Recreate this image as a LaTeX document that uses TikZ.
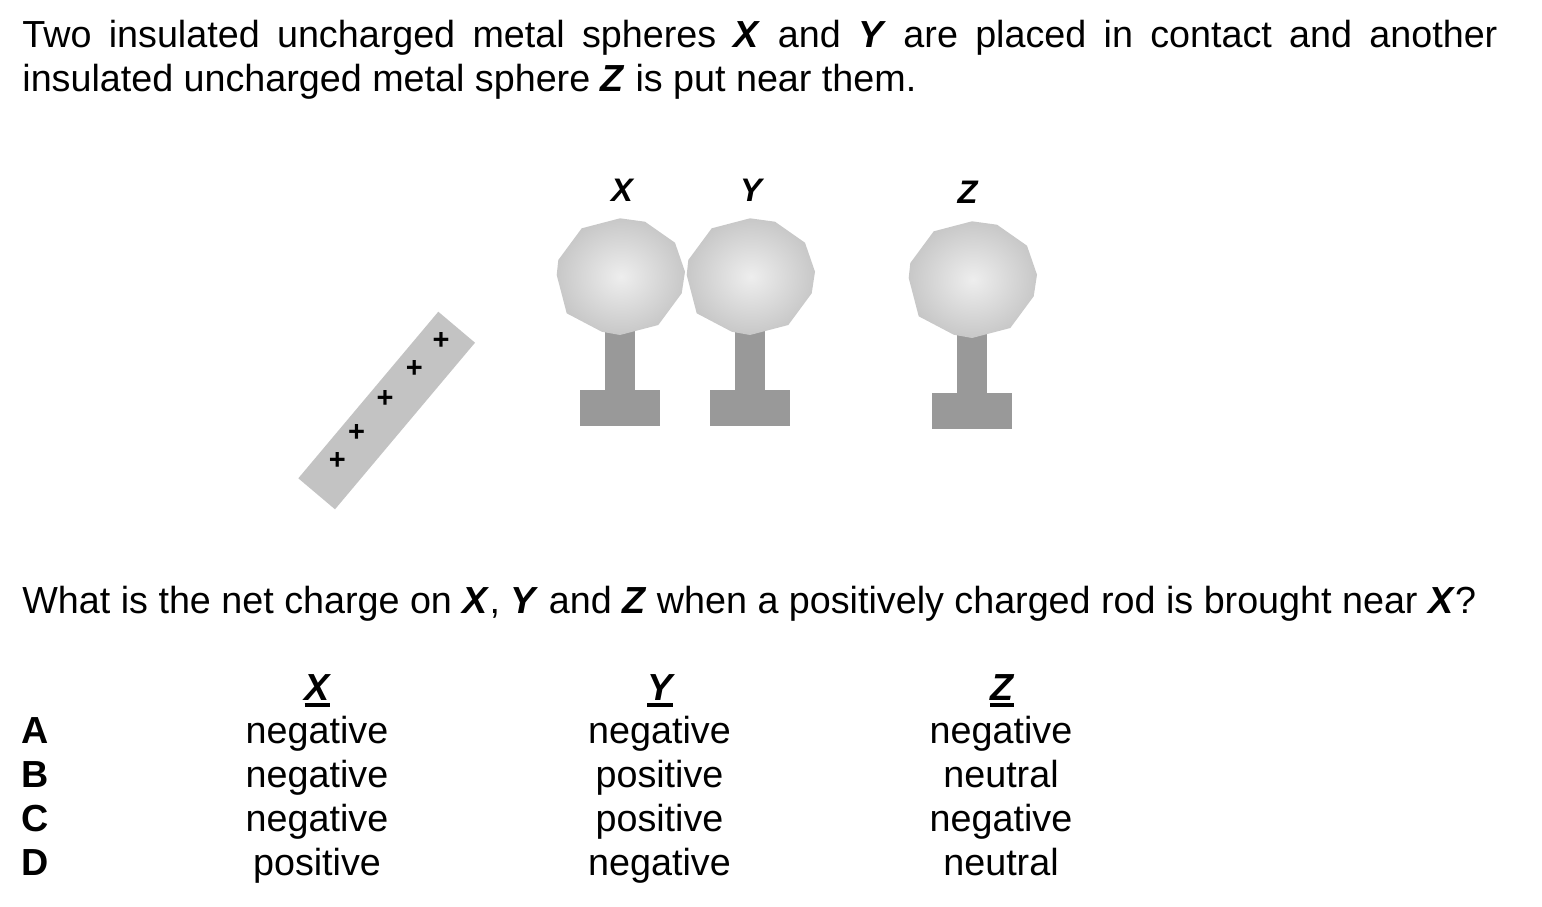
\documentclass[tikz,border=0pt]{standalone}
\usepackage{fontspec}
\setmainfont{Liberation Sans}
\usepackage{tikz}
\usepackage{xcolor}
\usetikzlibrary{
    calc,
    positioning
}
\definecolor{spherelight}{RGB}{238,238,238}
\definecolor{spheredark}{RGB}{178,178,178}
\definecolor{standgray}{RGB}{153,153,153}
\definecolor{rodgray}{RGB}{195,195,195}
\pgfdeclareradialshading{sphereshade}{\pgfpoint{0bp}{0bp}}{color(0bp)=(spherelight); color(39bp)=(spheredark); color(50bp)=(spheredark)}
\newcommand{\bvar}[1]{\textbf{\textit{#1}}}
\tikzset{
    bodytext/.style={inner sep=0pt, anchor=base west, font=\fontsize{18.85}{21.65}\selectfont},
    cell/.style={inner sep=0pt, anchor=base, font=\fontsize{18.85}{21.65}\selectfont},
    colhead/.style={cell, font=\fontsize{18.85}{21.65}\selectfont\bfseries\itshape},
    rowlabel/.style={bodytext, font=\fontsize{18.85}{21.65}\selectfont\bfseries},
    spherelabel/.style={inner sep=0pt, anchor=base, font=\fontsize{16.3}{18}\selectfont\bfseries\itshape},
    charge/.style={inner sep=0pt, font=\fontsize{14.5}{15}\selectfont\bfseries},
    ball/.style={shading=sphereshade},
    stand/.style={fill=standgray},
    rod/.style={fill=rodgray}
}

\begin{document}
\begin{tikzpicture}[x=0.5pt, y=-0.5pt]
    \useasboundingbox (0, 0) rectangle (1542, 906);
    \node[bodytext] (intro) at (22, 47.7) {\parbox[t]{737.5pt}{\makebox[\linewidth][s]{Two insulated uncharged metal spheres \bvar{X} and \bvar{Y} are placed in contact and another}\\insulated uncharged metal sphere \bvar{Z} is put near them.}};

    \foreach \name/\cx/\cy/\lx/\ly/\lab in {sx/620/277/622/201.7/X, sy/750/277/751/201.7/Y, sz/972/280/967.5/203.3/Z} {
        \begin{scope}[shift={(\cx, \cy)}]
            \fill[stand] (-15, 40) rectangle (15, 113);
            \fill[stand] (-40, 113) rectangle (40, 149);
            \path[ball] (-38.3, -48.7) -- (0, -58.7) -- (25, -55.3) -- (55, -34.3) -- (65, -5.3) -- (61.7, 16.3)
                -- (38.3, 48) -- (0, 58) -- (-18.3, 54.7) -- (-53.3, 36.3) -- (-63.3, -2) -- (-61.7, -17) -- cycle;
        \end{scope}
        \node[spherelabel] (lab\name) at (\lx, \ly) {\lab};
    }

    \fill[rod] (438.3, 311.7) -- (475, 342.7) -- (335, 509.3) -- (298.3, 478.3) -- cycle;
    \node[charge] (p1) at (441, 340.7) {+};
    \node[charge] (p2) at (414.3, 369.3) {+};
    \node[charge] (p3) at (385, 399) {+};
    \node[charge] (p4) at (356.7, 433.3) {+};
    \node[charge] (p5) at (337.3, 461) {+};

    \node[bodytext] (question) at (22, 613) {What is the net charge on \bvar{X}, \bvar{Y} and \bvar{Z} when a positively charged rod is brought near \bvar{X}?};

    \node[colhead] (hx) at (317.5, 700.7) {X};
    \node[colhead] (hy) at (660, 700.7) {Y};
    \node[colhead] (hz) at (1002, 700.7) {Z};
    \foreach \h in {hx, hy, hz}
        \draw[line width=2pt] ([yshift=-2pt]\h.base west) -- ([yshift=-2pt]\h.base east);

    \node[rowlabel] (ra) at (21, 743) {A};
    \node[rowlabel] (rb) at (21, 787.3) {B};
    \node[rowlabel] (rc) at (21, 831.7) {C};
    \node[rowlabel] (rd) at (21, 875) {D};

    \node[cell] (ax) at (317, 743) {negative};
    \node[cell] (ay) at (659.5, 743) {negative};
    \node[cell] (az) at (1001, 743) {negative};
    \node[cell] (bx) at (317, 787.3) {negative};
    \node[cell] (by) at (659.5, 787.3) {positive};
    \node[cell] (bz) at (1001, 787.3) {neutral};
    \node[cell] (cx) at (317, 831.7) {negative};
    \node[cell] (cy) at (659.5, 831.7) {positive};
    \node[cell] (cz) at (1001, 831.7) {negative};
    \node[cell] (dx) at (317, 875) {positive};
    \node[cell] (dy) at (659.5, 875) {negative};
    \node[cell] (dz) at (1001, 875) {neutral};
\end{tikzpicture}
\end{document}
